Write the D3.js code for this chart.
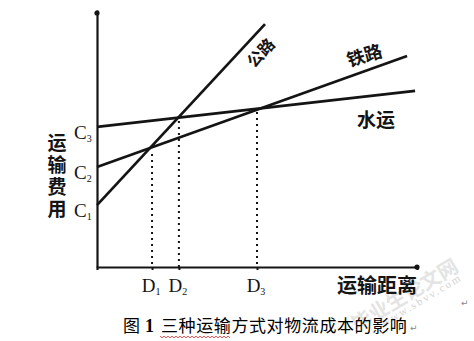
<!DOCTYPE html>
<html>
<head>
<meta charset="utf-8">
<script src="https://cdn.jsdelivr.net/npm/d3@7"></script>
<style>
  body { margin: 0; background: #fff; }
  svg { display: block; }
</style>
</head>
<body>
<script>
// cost lines: [distance, cost] end points
const roadLine = [[0, 2.41], [5.25, 9.45]]
const railLine = [[0, 3.89], [9.69, 8.21]]
const waterLine = [[0, 5.45], [9.94, 6.85]]

// break-even distances and where the dotted drop lines start
const dValues = [1.72, 2.56, 5.0]
const dTops = [4.55, 5.84, 6.19]
const dLabels = ['1', '2', '3']

// fixed costs on the y axis
const cValues = [2.41, 3.89, 5.45]
const cLabels = ['1', '2', '3']

const width = 474, height = 341

const svg = d3.select('body').append('svg')
  .attr('width', width)
  .attr('height', height)

const x = d3.scaleLinear().domain([0, 10]).range([97, 417])
const y = d3.scaleLinear().domain([0, 10]).range([267, 10])

const ink = '#141414'

// watermark (faint, behind everything)
const wm = svg.append('g').attr('transform', 'translate(404,294) rotate(-31)')
wm.append('text')
  .attr('text-anchor', 'middle')
  .attr('dominant-baseline', 'central')
  .attr('font-family', 'Noto Sans CJK SC')
  .attr('font-weight', 700)
  .attr('font-size', 20)
  .attr('fill', '#e4e4e4')
  .text('毕业生论文网')
wm.append('text')
  .attr('y', 18)
  .attr('x', 12)
  .attr('text-anchor', 'middle')
  .attr('font-family', 'Liberation Serif')
  .attr('font-size', 11)
  .attr('letter-spacing', 2)
  .attr('fill', '#d4d4d4')
  .text('www.sbvv.com')

// axes
svg.append('g')
  .attr('transform', `translate(0,${y(0)})`)
  .call(d3.axisBottom(x).tickValues(dValues).tickSize(3).tickFormat(''))
  .call(g => g.select('.domain').attr('stroke', ink).attr('stroke-width', 2.2))
  .call(g => g.selectAll('.tick line').attr('stroke', ink).attr('stroke-width', 2))

svg.append('g')
  .attr('transform', `translate(${x(0)},0)`)
  .call(d3.axisLeft(y).tickValues([]).tickSize(0))
  .call(g => g.select('.domain').attr('stroke', ink).attr('stroke-width', 2.2))

// arrow heads
svg.append('circle').attr('cx', x(0)).attr('cy', y(10) + 3).attr('r', 2.6).attr('fill', ink)
svg.append('circle').attr('cx', x(10)).attr('cy', y(0)).attr('r', 2.6).attr('fill', ink)

// dotted drop lines
svg.append('g')
  .selectAll('line')
  .data(dValues)
  .join('line')
  .attr('x1', d => x(d))
  .attr('x2', d => x(d))
  .attr('y1', (d, i) => y(dTops[i]) + 4)
  .attr('y2', y(0))
  .attr('stroke', ink)
  .attr('stroke-width', 2)
  .attr('stroke-dasharray', '2,4')

// cost lines
const line = d3.line().x(d => x(d[0])).y(d => y(d[1]))
svg.append('g')
  .selectAll('path')
  .data([roadLine, railLine, waterLine])
  .join('path')
  .attr('d', line)
  .attr('fill', 'none')
  .attr('stroke', ink)
  .attr('stroke-width', 2.7)

// C labels
const cText = svg.append('g')
  .attr('font-family', 'Liberation Serif')
  .attr('fill', ink)
  .selectAll('text')
  .data(cValues)
  .join('text')
  .attr('x', 74)
  .attr('y', d => y(d) + 12)
  .attr('font-size', 19)
cText.append('tspan').text('C')
cText.append('tspan').attr('font-size', 10).attr('dy', 3).text((d, i) => cLabels[i])

// D labels
const dText = svg.append('g')
  .attr('font-family', 'Liberation Serif')
  .attr('fill', ink)
  .selectAll('text')
  .data(dValues)
  .join('text')
  .attr('x', d => x(d) - 1)
  .attr('y', 292)
  .attr('text-anchor', 'middle')
  .attr('font-size', 19)
dText.append('tspan').text('D')
dText.append('tspan').attr('font-size', 10).attr('dy', 3).text((d, i) => dLabels[i])

// y axis title, written top to bottom
svg.append('text')
  .attr('x', 57)
  .attr('y', 133)
  .style('writing-mode', 'vertical-rl')
  .attr('font-family', 'Noto Sans CJK SC')
  .attr('font-weight', 700)
  .attr('font-size', 19)
  .attr('letter-spacing', 3)
  .attr('fill', ink)
  .text('运输费用')

// x axis title
svg.append('text')
  .attr('x', 417)
  .attr('y', 293)
  .attr('text-anchor', 'end')
  .attr('font-family', 'Noto Sans CJK SC')
  .attr('font-weight', 700)
  .attr('font-size', 20)
  .attr('fill', ink)
  .text('运输距离')

// line labels
function lineLabel(text, cx, cy, angle, size) {
  svg.append('text')
    .attr('transform', `translate(${cx},${cy}) rotate(${angle})`)
    .attr('text-anchor', 'middle')
    .attr('dominant-baseline', 'central')
    .attr('font-family', 'Noto Sans CJK SC')
    .attr('font-weight', 700)
    .attr('font-size', size)
    .attr('fill', ink)
    .text(text)
}
lineLabel('公路', 260, 52, -47, 16)
lineLabel('铁路', 364, 54, -17, 18)
lineLabel('水运', 376, 118, 0, 19)

// caption
const cap = svg.append('text')
  .attr('y', 332)
  .attr('font-family', 'Noto Sans CJK SC')
  .attr('font-size', 17)
  .attr('fill', '#000')
cap.append('tspan').attr('x', 123).text('图')
cap.append('tspan').attr('x', 145).attr('font-family', 'Liberation Serif').attr('font-weight', 700).attr('font-size', 18).text('1')
cap.append('tspan').attr('x', 161).attr('letter-spacing', 0.6).text('三种运输方式对物流成本的影响')

// spell check squiggle under 三种运输
const squiggle = d3.range(160, 231, 2).map((px, i) => [px, 337 + (i % 2 ? 1 : -1)])
svg.append('path')
  .attr('d', d3.line()(squiggle))
  .attr('fill', 'none')
  .attr('stroke', '#e03030')
  .attr('stroke-width', 0.8)

// paragraph marks
svg.append('g')
  .selectAll('text')
  .data([[410, 331], [461, 306]])
  .join('text')
  .attr('x', d => d[0])
  .attr('y', d => d[1])
  .attr('font-family', 'DejaVu Sans')
  .attr('font-size', 9)
  .attr('fill', '#888')
  .text('↵')
</script>
</body>
</html>
